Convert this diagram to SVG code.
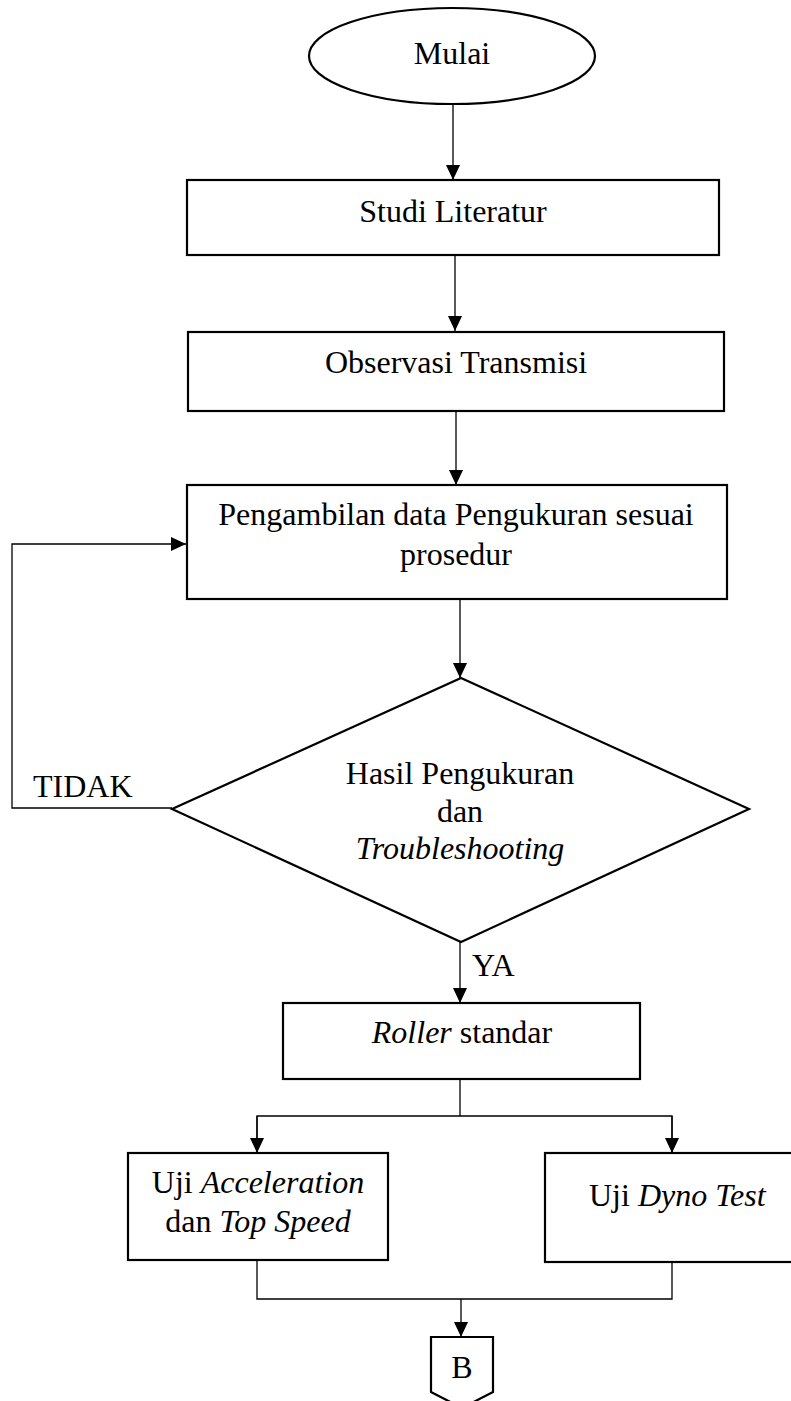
<svg xmlns="http://www.w3.org/2000/svg" width="791" height="1401" viewBox="0 0 791 1401">
  <style>
    .node { fill: #ffffff; stroke: #000000; stroke-width: 2.2; }
    .conn { fill: none; stroke: #000000; stroke-width: 1.3; }
    .t { font-family: "Liberation Serif", "Times New Roman", serif; font-size: 32px; fill: #000000; }
    .c { text-anchor: middle; }
    .i { font-style: italic; }
  </style>
  <defs>
    <marker id="arrow" viewBox="0 0 15 14" refX="15" refY="7" markerWidth="15" markerHeight="14" markerUnits="userSpaceOnUse" orient="auto">
      <path d="M0,0 L15,7 L0,14 Z" fill="#000000"/>
    </marker>
  </defs>
  <rect x="0" y="0" width="791" height="1401" fill="#ffffff"/>

  <g id="connectors">
    <line class="conn" x1="453" y1="105" x2="453" y2="180" marker-end="url(#arrow)"/>
    <line class="conn" x1="455" y1="255" x2="455" y2="331" marker-end="url(#arrow)"/>
    <line class="conn" x1="456" y1="411" x2="456" y2="485" marker-end="url(#arrow)"/>
    <line class="conn" x1="460" y1="599" x2="460" y2="678" marker-end="url(#arrow)"/>
    <polyline class="conn" points="172,808 12,808 12,544 186,544" marker-end="url(#arrow)"/>
    <line class="conn" x1="460" y1="942" x2="460" y2="1003" marker-end="url(#arrow)"/>
    <line class="conn" x1="460" y1="1079" x2="460" y2="1116"/>
    <polyline class="conn" points="257,1153 257,1116 672,1116 672,1153"/>
    <line class="conn" x1="257" y1="1116" x2="257" y2="1153" marker-end="url(#arrow)"/>
    <line class="conn" x1="672" y1="1116" x2="672" y2="1153" marker-end="url(#arrow)"/>
    <polyline class="conn" points="257,1260 257,1299 672,1299 672,1262"/>
    <line class="conn" x1="461" y1="1299" x2="461" y2="1337" marker-end="url(#arrow)"/>
    <text class="t" x="33" y="797">TIDAK</text>
    <text class="t" x="472" y="976">YA</text>
  </g>

  <g id="mulai">
    <ellipse class="node" cx="452" cy="56" rx="143" ry="48"/>
    <text class="t c" x="452" y="64">Mulai</text>
  </g>

  <g id="studi-literatur">
    <rect class="node" x="187" y="180" width="532" height="75"/>
    <text class="t c" x="453" y="222">Studi Literatur</text>
  </g>

  <g id="observasi-transmisi">
    <rect class="node" x="188" y="332" width="536" height="79"/>
    <text class="t c" x="456" y="373">Observasi Transmisi</text>
  </g>

  <g id="pengambilan-data">
    <rect class="node" x="187" y="485" width="540" height="114"/>
    <text class="t c" x="456" y="525">Pengambilan data Pengukuran sesuai</text>
    <text class="t c" x="456" y="565">prosedur</text>
  </g>

  <g id="hasil-pengukuran">
    <polygon class="node" points="461,678 749,809 461,942 172,809"/>
    <text class="t c" x="460" y="784">Hasil Pengukuran</text>
    <text class="t c" x="460" y="822">dan</text>
    <text class="t c i" x="460" y="859">Troubleshooting</text>
  </g>

  <g id="roller-standar">
    <rect class="node" x="283" y="1003" width="357" height="76"/>
    <text class="t c" x="462" y="1043"><tspan class="i">Roller</tspan> standar</text>
  </g>

  <g id="uji-acceleration">
    <rect class="node" x="128" y="1153" width="260" height="107"/>
    <text class="t c" x="258" y="1193">Uji <tspan class="i">Acceleration</tspan></text>
    <text class="t c" x="258" y="1232">dan <tspan class="i">Top Speed</tspan></text>
  </g>

  <g id="uji-dyno">
    <rect class="node" x="545" y="1153" width="270" height="109"/>
    <text class="t" x="589" y="1206">Uji <tspan class="i">Dyno Test</tspan></text>
  </g>

  <g id="connector-b">
    <path class="node" d="M431,1337 L493,1337 L493,1392 L462,1408 L431,1392 Z"/>
    <text class="t c" x="462" y="1378">B</text>
  </g>
</svg>
